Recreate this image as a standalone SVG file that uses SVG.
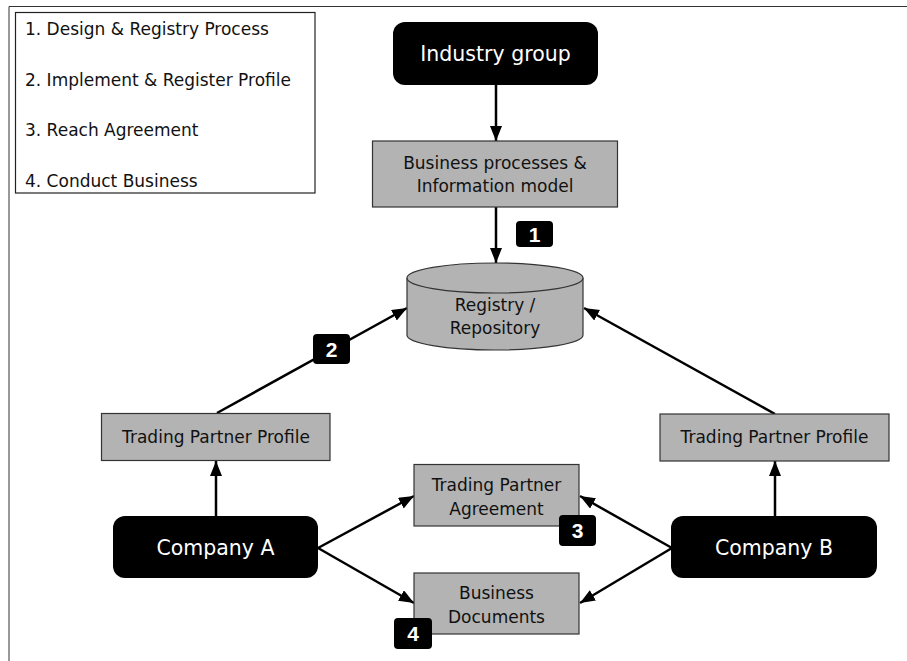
<svg xmlns="http://www.w3.org/2000/svg" width="907" height="661" viewBox="0 0 907 661">
  <style>
    .frame { fill: none; stroke: #333; stroke-width: 1; }
    .legend { fill: #fff; stroke: #222; stroke-width: 1.2; }
    .legend-text { font-family: "DejaVu Sans", Verdana, sans-serif; font-size: 17px; fill: #111; }
    .actor { fill: #000; }
    .actor-text { font-family: "DejaVu Sans", Verdana, sans-serif; font-size: 20.5px; fill: #fff; text-anchor: middle; }
    .box { fill: #b3b3b3; stroke: #333; stroke-width: 1.2; }
    .box-text { font-family: "DejaVu Sans", Verdana, sans-serif; font-size: 17px; fill: #111; text-anchor: middle; }
    .badge { fill: #000; }
    .badge-text { font-family: "Liberation Sans", Arial, sans-serif; font-weight: bold; font-size: 21px; fill: #fff; text-anchor: middle; }
    .conn { stroke: #000; stroke-width: 2.5; fill: none; marker-end: url(#arrow); }
  </style>
  <defs>
    <marker id="arrow" markerUnits="userSpaceOnUse" markerWidth="16" markerHeight="13" refX="15" refY="6" orient="auto">
      <path d="M0,0 L15,6 L0,12 z" fill="#000"/>
    </marker>
  </defs>

  <rect width="907" height="661" fill="#fff"/>
  <!-- page frame: top and left edges -->
  <path class="frame" d="M9,661 L9,6.5 L907,6.5"/>

  <!-- legend of steps -->
  <g id="legend">
    <rect class="legend" x="15.5" y="12.5" width="299.5" height="180.5"/>
    <text class="legend-text" x="25" y="35">1. Design &amp; Registry Process</text>
    <text class="legend-text" x="25" y="86">2. Implement &amp; Register Profile</text>
    <text class="legend-text" x="25" y="136">3. Reach Agreement</text>
    <text class="legend-text" x="25" y="187">4. Conduct Business</text>
  </g>

  <!-- connectors -->
  <g id="connectors">
    <line class="conn" x1="496" y1="85" x2="496" y2="141"/>
    <line class="conn" x1="496" y1="207" x2="496" y2="263"/>
    <line class="conn" x1="217" y1="413" x2="407" y2="308"/>
    <line class="conn" x1="775" y1="414" x2="584" y2="308"/>
    <line class="conn" x1="216" y1="516" x2="216" y2="461"/>
    <line class="conn" x1="775" y1="516" x2="775" y2="461"/>
    <line class="conn" x1="318" y1="548" x2="414" y2="496"/>
    <line class="conn" x1="318" y1="548" x2="414" y2="603"/>
    <line class="conn" x1="672" y1="548" x2="580" y2="496"/>
    <line class="conn" x1="672" y1="548" x2="580" y2="603"/>
  </g>

  <g id="industry-group">
    <rect class="actor" x="393" y="22" width="205" height="63" rx="12"/>
    <text class="actor-text" x="495.5" y="61">Industry group</text>
  </g>

  <g id="business-processes">
    <rect class="box" x="372.5" y="141" width="245" height="66"/>
    <text class="box-text" x="495" y="169">Business processes &amp;</text>
    <text class="box-text" x="495" y="192">Information model</text>
  </g>

  <g id="registry">
    <path class="box" d="M407,278 L407,335 A88,15 0 0 0 583,335 L583,278"/>
    <ellipse class="box" cx="495" cy="278" rx="88" ry="15"/>
    <text class="box-text" x="495" y="311">Registry /</text>
    <text class="box-text" x="495" y="334">Repository</text>
  </g>

  <g id="tpp-a">
    <rect class="box" x="101.5" y="413.5" width="228.5" height="47"/>
    <text class="box-text" x="216" y="443">Trading Partner Profile</text>
  </g>

  <g id="tpp-b">
    <rect class="box" x="660" y="414" width="229" height="47"/>
    <text class="box-text" x="774.5" y="443">Trading Partner Profile</text>
  </g>

  <g id="company-a">
    <rect class="actor" x="113" y="516" width="205" height="62" rx="12"/>
    <text class="actor-text" x="215.5" y="555">Company A</text>
  </g>

  <g id="company-b">
    <rect class="actor" x="671" y="516" width="206" height="62" rx="12"/>
    <text class="actor-text" x="774" y="555">Company B</text>
  </g>

  <g id="tpa">
    <rect class="box" x="414" y="464.5" width="165" height="61.5"/>
    <text class="box-text" x="496.5" y="491">Trading Partner</text>
    <text class="box-text" x="496.5" y="515">Agreement</text>
  </g>

  <g id="business-documents">
    <rect class="box" x="414" y="573" width="165" height="61"/>
    <text class="box-text" x="496.5" y="599">Business</text>
    <text class="box-text" x="496.5" y="623">Documents</text>
  </g>

  <g id="step-1">
    <rect class="badge" x="516" y="221" width="37" height="26" rx="4"/>
    <text class="badge-text" x="534.5" y="242">1</text>
  </g>
  <g id="step-2">
    <rect class="badge" x="313" y="334" width="37" height="30" rx="4"/>
    <text class="badge-text" x="331.5" y="357">2</text>
  </g>
  <g id="step-3">
    <rect class="badge" x="559" y="515" width="37" height="31" rx="4"/>
    <text class="badge-text" x="577.5" y="538">3</text>
  </g>
  <g id="step-4">
    <rect class="badge" x="394" y="618" width="38" height="31" rx="4"/>
    <text class="badge-text" x="413" y="641">4</text>
  </g>
</svg>
